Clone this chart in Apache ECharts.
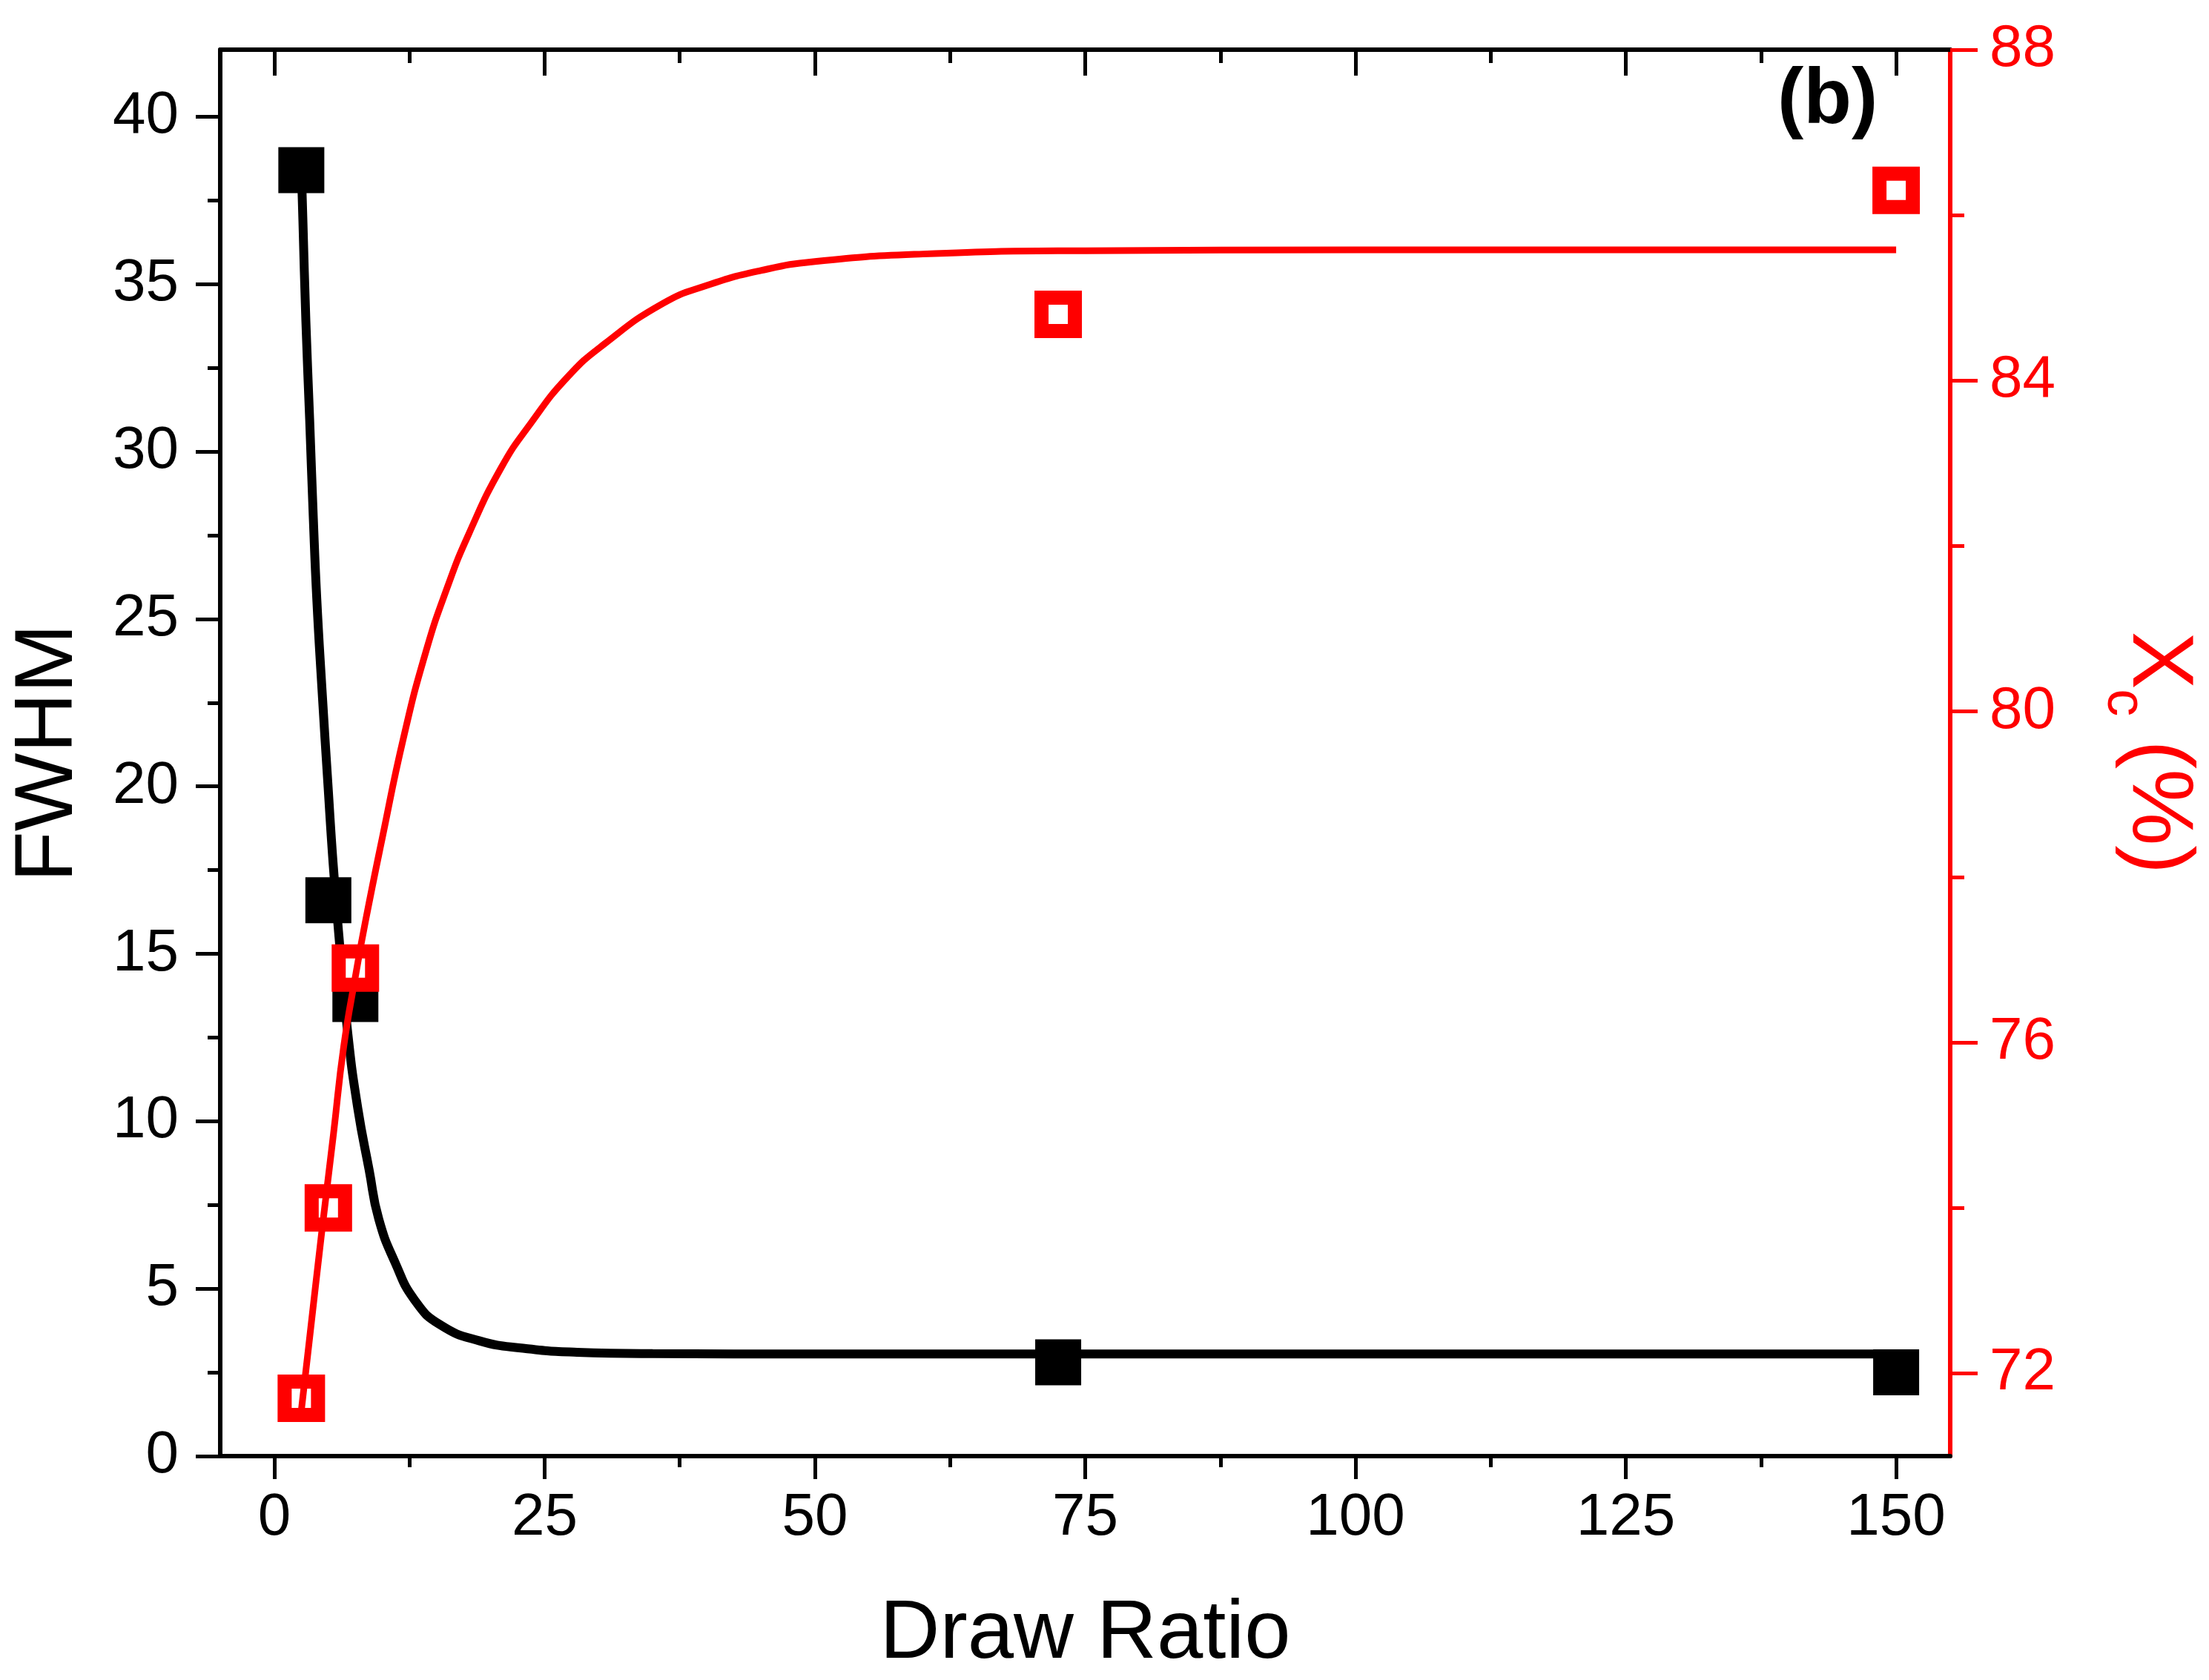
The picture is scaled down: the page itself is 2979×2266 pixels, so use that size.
<!DOCTYPE html>
<html>
<head>
<meta charset="utf-8">
<title>FWHM and Xc vs Draw Ratio</title>
<script src="https://cdn.jsdelivr.net/npm/echarts@6/dist/echarts.min.js"></script>
<style>
  html, body { margin: 0; padding: 0; background: #fff; }
  #chart { width: 2979px; height: 2266px; }
</style>
</head>
<body>
<div id="chart"></div>
<script>
// measured points
var drawRatio = [2.5, 5, 7.5, 72.5, 150];
var fwhm = [38.4, 16.6, 13.65, 2.8, 2.5];
var xc = [71.7, 74.0, 76.9, 84.8, 86.3];

// fitted curves
var fwhmFitX = [2.5, 2.65, 2.92, 3.27, 3.61, 3.93, 4.41, 4.98, 5.44, 5.98, 6.81, 7.72, 8.77, 9.66, 11.2, 13.0, 15.35, 19.0, 23.0, 28.0, 35.0, 50.0, 80.0, 150.0];
var fwhmFitY = [38.5, 36.85, 33.9, 30.96, 28.0, 25.6, 22.9, 19.96, 17.7, 15.52, 12.59, 10.39, 8.55, 7.08, 5.76, 4.65, 3.92, 3.44, 3.22, 3.1, 3.06, 3.05, 3.05, 3.05];
var xcFitX = [2.5, 3.2, 4.39, 5.48, 6.42, 7.56, 8.41, 10.0, 11.93, 13.99, 16.0, 18.0, 21.0, 23.7, 27.1, 30.6, 35.9, 40, 45, 50, 60, 75, 100, 150];
var xcFitY = [71.55, 72.35, 73.71, 74.9, 75.95, 76.84, 77.45, 78.48, 79.67, 80.71, 81.5, 82.15, 82.95, 83.48, 84.04, 84.45, 84.93, 85.15, 85.33, 85.44, 85.53, 85.57, 85.58, 85.58];

// tick labels
var xMajorTicks = [0, 25, 50, 75, 100, 125, 150];
var xMinorTicks = [12.5, 37.5, 62.5, 87.5, 112.5, 137.5];
var fwhmMajorTicks = [0, 5, 10, 15, 20, 25, 30, 35, 40];
var fwhmMinorTicks = [2.5, 7.5, 12.5, 17.5, 22.5, 27.5, 32.5, 37.5];
var xcMajorTicks = [72, 76, 80, 84, 88];
var xcMinorTicks = [74, 78, 82, 86];

(function() {
    var font = 'Liberation Sans';
    var red = '#ff0000';
    var black = '#000000';

    function zip(xs, ys) {
        return xs.map(function(x, i) { return [x, ys[i]]; });
    }

    var xBase = { type: 'value', min: -5, max: 155, splitLine: { show: false } };
    var fwhmBase = { type: 'value', min: 0, max: 42, splitLine: { show: false } };
    var xcBase = { type: 'value', min: 71, max: 88, splitLine: { show: false } };

    var option = {
        animation: false,
        backgroundColor: '#fff',
        grid: { left: 297, right: 349, top: 67, bottom: 295 },
        graphic: [{
            type: 'text',
            left: 2397,
            top: 84,
            style: { text: '(b)', font: 'bold 106px "' + font + '"', fill: black }
        }],
        xAxis: [
            Object.assign({}, xBase, {
                position: 'bottom',
                axisLine: { onZero: false, lineStyle: { color: black, width: 6 } },
                axisTick: { customValues: xMajorTicks, length: 31, lineStyle: { color: black, width: 5 } },
                axisLabel: { customValues: xMajorTicks, fontSize: 80, margin: 44, color: black, fontFamily: font },
                name: 'Draw Ratio',
                nameLocation: 'middle',
                nameGap: 185,
                nameTextStyle: { fontSize: 112, color: black, fontFamily: font }
            }),
            Object.assign({}, xBase, {
                position: 'bottom',
                axisLine: { show: false, onZero: false },
                axisTick: { customValues: xMinorTicks, length: 15, lineStyle: { color: black, width: 5 } },
                axisLabel: { show: false }
            }),
            Object.assign({}, xBase, {
                position: 'top',
                axisLine: { onZero: false, lineStyle: { color: black, width: 6 } },
                axisTick: { inside: true, customValues: xMajorTicks, length: 35, lineStyle: { color: black, width: 5 } },
                axisLabel: { show: false }
            }),
            Object.assign({}, xBase, {
                position: 'top',
                axisLine: { show: false, onZero: false },
                axisTick: { inside: true, customValues: xMinorTicks, length: 18, lineStyle: { color: black, width: 5 } },
                axisLabel: { show: false }
            })
        ],
        yAxis: [
            Object.assign({}, fwhmBase, {
                position: 'left',
                axisLine: { onZero: false, lineStyle: { color: black, width: 6 } },
                axisTick: { customValues: fwhmMajorTicks, length: 33, lineStyle: { color: black, width: 5 } },
                axisLabel: { customValues: fwhmMajorTicks, fontSize: 80, margin: 56, color: black, fontFamily: font },
                name: 'FWHM',
                nameLocation: 'middle',
                nameGap: 175,
                nameTextStyle: { fontSize: 112, color: black, fontFamily: font }
            }),
            Object.assign({}, xcBase, {
                position: 'right',
                axisLine: { onZero: false, lineStyle: { color: red, width: 6 } },
                axisTick: { customValues: xcMajorTicks, length: 37, lineStyle: { color: red, width: 5 } },
                axisLabel: { customValues: xcMajorTicks, fontSize: 80, margin: 53, color: red, fontFamily: font },
                name: '{a|X}{b|c}{a| (%)}',
                nameLocation: 'middle',
                nameRotate: -90,
                nameGap: 196,
                nameTextStyle: {
                    color: red,
                    fontFamily: font,
                    rich: {
                        a: { fontSize: 116, lineHeight: 166, color: red, fontFamily: font },
                        b: { fontSize: 74, lineHeight: 74, verticalAlign: 'bottom', color: red, fontFamily: font }
                    }
                }
            }),
            Object.assign({}, fwhmBase, {
                position: 'left',
                axisLine: { show: false, onZero: false },
                axisTick: { customValues: fwhmMinorTicks, length: 17, lineStyle: { color: black, width: 5 } },
                axisLabel: { show: false }
            }),
            Object.assign({}, xcBase, {
                position: 'right',
                axisLine: { show: false, onZero: false },
                axisTick: { customValues: xcMinorTicks, length: 19, lineStyle: { color: red, width: 5 } },
                axisLabel: { show: false }
            })
        ],
        series: [
            {
                name: 'FWHM fit',
                type: 'line',
                xAxisIndex: 0,
                yAxisIndex: 0,
                data: zip(fwhmFitX, fwhmFitY),
                smooth: 0.5,
                showSymbol: false,
                symbol: 'none',
                lineStyle: { color: black, width: 12 },
                z: 2
            },
            {
                name: 'FWHM',
                type: 'scatter',
                xAxisIndex: 0,
                yAxisIndex: 0,
                data: zip(drawRatio, fwhm),
                symbol: 'rect',
                symbolSize: 62,
                itemStyle: { color: black, opacity: 1 },
                z: 3
            },
            {
                name: 'Xc',
                type: 'scatter',
                xAxisIndex: 0,
                yAxisIndex: 1,
                data: zip(drawRatio, xc),
                symbol: 'rect',
                symbolSize: 45,
                itemStyle: { color: '#ffffff', borderColor: red, borderWidth: 19, opacity: 1 },
                z: 4
            },
            {
                name: 'Xc fit',
                type: 'line',
                xAxisIndex: 0,
                yAxisIndex: 1,
                data: zip(xcFitX, xcFitY),
                smooth: 0.5,
                showSymbol: false,
                symbol: 'none',
                lineStyle: { color: red, width: 9 },
                z: 5
            }
        ]
    };

    var myChart = echarts.init(document.getElementById('chart'));
    myChart.setOption(option);
})();
</script>
</body>
</html>
